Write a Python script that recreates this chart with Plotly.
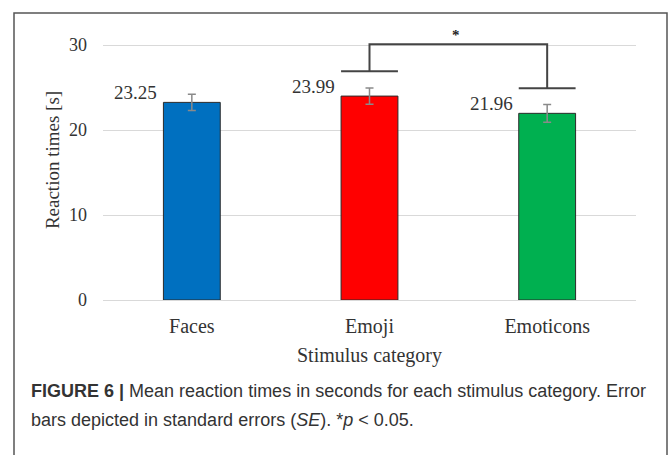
import plotly.graph_objects as go

# Data
categories = ["Faces", "Emoji", "Emoticons"]
mean_rt = [23.25, 23.99, 21.96]
se_rt = [0.95, 0.95, 1.05]
bar_colors = ["#0070C0", "#FF0000", "#00B050"]
y_ticks = [0, 10, 20, 30]

# Significance bracket between Emoji and Emoticons
sig_pair = (1, 2)
sig_levels = {"top": 30.1, "left": 26.9, "right": 24.9}

BAR_W = 0.32
SERIF = "Liberation Serif, Times New Roman, serif"
SANS = "Liberation Sans, Arial, Helvetica, sans-serif"
TXT = "#333333"
xs = list(range(len(categories)))

fig = go.Figure()
fig.add_trace(go.Bar(
    x=xs, y=mean_rt, width=BAR_W,
    marker=dict(color=bar_colors, line=dict(color="#2b2b2b", width=1)),
    error_y=dict(type="data", array=se_rt, color="#8a8a8a", thickness=1.5, width=4),
    showlegend=False, hoverinfo="skip",
))

# bracket: caps over each bar, vertical legs, joined across the top
a, b = sig_pair
h = BAR_W / 2
bx = [a - h, a + h, None, a, a, b, b, None, b - h, b + h]
by = [sig_levels["left"], sig_levels["left"], None,
      sig_levels["left"], sig_levels["top"], sig_levels["top"], sig_levels["right"], None,
      sig_levels["right"], sig_levels["right"]]
fig.add_trace(go.Scatter(x=bx, y=by, mode="lines", line=dict(color="#444444", width=2),
                         showlegend=False, hoverinfo="skip", cliponaxis=False))

annotations = []
for i, v in enumerate(mean_rt):
    annotations.append(dict(
        x=i - h, y=v, xref="x", yref="y", text=f"{v:.2f}", showarrow=False,
        xanchor="right", yanchor="middle", xshift=-4, yshift=10,
        font=dict(family=SERIF, size=19, color=TXT),
    ))
annotations.append(dict(
    x=(a + b) / 2 - 0.015, y=sig_levels["top"], xref="x", yref="y", text="<b>*</b>", showarrow=False,
    xanchor="center", yanchor="bottom", yshift=-1,
    font=dict(family=SERIF, size=15, color="#222222"),
))

# caption under the chart
PLOT_L, PLOT_R, PLOT_T, PLOT_B = 103, 636, 20, 300
pw, ph = PLOT_R - PLOT_L, PLOT_B - PLOT_T
def px_x(p):
    return (p - PLOT_L) / pw
def px_y(p):
    return (PLOT_B - p) / ph

caption = [
    "<b>FIGURE 6 |</b> Mean reaction times in seconds for each stimulus category. Error",
    "bars depicted in standard errors (<i>SE</i>). *<i>p</i> &lt; 0.05.",
]
for line, ypix in zip(caption, [391, 420]):
    annotations.append(dict(
        x=px_x(29), y=px_y(ypix), xref="paper", yref="paper", text=line, showarrow=False,
        xanchor="left", yanchor="middle",
        font=dict(family=SANS, size=18, color=TXT),
    ))

# outer frame
shapes = [dict(
    type="path", xref="paper", yref="paper",
    path=f"M {px_x(14)} {px_y(480)} L {px_x(14)} {px_y(13)} L {px_x(667)} {px_y(13)} L {px_x(667)} {px_y(480)}",
    line=dict(color="#555555", width=1.5),
)]

fig.update_layout(
    width=669, height=455,
    margin=dict(l=PLOT_L, r=669 - PLOT_R, t=PLOT_T, b=455 - PLOT_B),
    paper_bgcolor="white", plot_bgcolor="white",
    annotations=annotations, shapes=shapes,
    xaxis=dict(
        range=[-0.5, 2.5], tickvals=xs, ticktext=categories, showgrid=False,
        zeroline=False, showline=False, ticks="",
        tickfont=dict(family=SERIF, size=20, color=TXT), ticklabelstandoff=12,
        title=dict(text="Stimulus category", font=dict(family=SERIF, size=20, color=TXT), standoff=10),
    ),
    yaxis=dict(
        range=[0, ph / 8.5], tickvals=y_ticks, showgrid=True, gridcolor="#d9d9d9", gridwidth=1,
        zeroline=True, zerolinecolor="#d9d9d9", zerolinewidth=1, showline=False, ticks="",
        tickfont=dict(family=SERIF, size=18, color=TXT), ticklabelstandoff=15,
        title=dict(text="Reaction times [s]", font=dict(family=SERIF, size=19, color=TXT), standoff=4),
    ),
)

fig.write_html("out.html")
